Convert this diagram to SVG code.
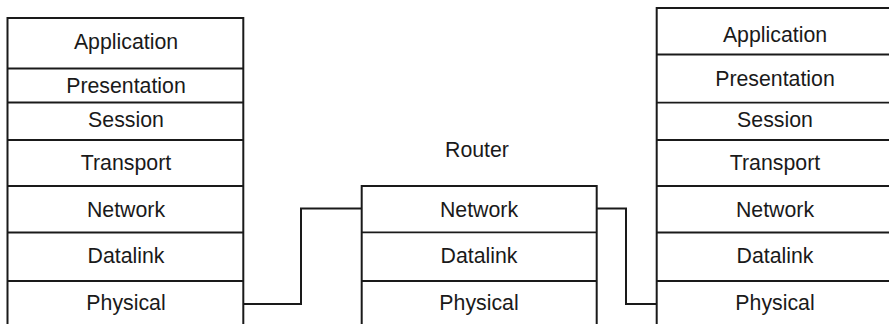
<svg xmlns="http://www.w3.org/2000/svg" width="889" height="324" viewBox="0 0 889 324">
<style>
.b{fill:none;stroke:#1a1a1a;stroke-width:2}
.d{fill:none;stroke:#1a1a1a;stroke-width:1.8}
.c{fill:none;stroke:#1a1a1a;stroke-width:2}
text{font-family:"Liberation Sans",Arial,sans-serif;font-size:21.3px;fill:#1a1a1a;text-anchor:middle}
</style>
<rect width="889" height="324" fill="#fff"/>
<g id="host-left">
<path class="b" d="M7.5,325 V18 H243.3 V325"/>
<path class="d" d="M7.5,68.5 H243.3 M7.5,102.5 H243.3 M7.5,140 H243.3 M7.5,186 H243.3 M7.5,232.5 H243.3 M7.5,281 H243.3"/>
<text x="126" y="49.3">Application</text>
<text x="126" y="92.7">Presentation</text>
<text x="126" y="126.7">Session</text>
<text x="126" y="170">Transport</text>
<text x="126" y="216.7">Network</text>
<text x="126" y="263.3">Datalink</text>
<text x="126" y="310">Physical</text>
</g>
<g id="router">
<text x="477" y="156.7">Router</text>
<path class="b" d="M361.7,325 V186 H596.7 V325"/>
<path class="d" d="M361.7,232.3 H596.7 M361.7,281 H596.7"/>
<text x="479" y="216.7">Network</text>
<text x="479" y="263.3">Datalink</text>
<text x="479" y="310">Physical</text>
</g>
<g id="host-right">
<path class="b" d="M656.7,325 V8 H895"/>
<path class="d" d="M656.7,54.5 H895 M656.7,102.7 H895 M656.7,140 H895 M656.7,186 H895 M656.7,232.5 H895 M656.7,281 H895"/>
<text x="775" y="41.7">Application</text>
<text x="775" y="86">Presentation</text>
<text x="775" y="126.7">Session</text>
<text x="775" y="170">Transport</text>
<text x="775" y="216.7">Network</text>
<text x="775" y="263.3">Datalink</text>
<text x="775" y="310">Physical</text>
</g>
<g id="connectors">
<path class="c" d="M243.3,304 H301 V208.5 H361.7"/>
<path class="c" d="M596.7,208.5 H626 V304 H656.7"/>
</g>
</svg>
